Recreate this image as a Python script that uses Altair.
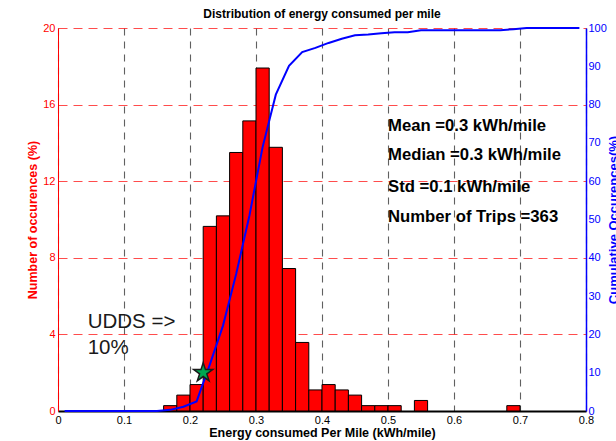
import altair as alt
import pandas as pd

# ---------------- data ----------------
bin_starts = [0.16, 0.18, 0.20, 0.22, 0.24, 0.26, 0.28, 0.30, 0.32, 0.34,
              0.36, 0.38, 0.40, 0.42, 0.44, 0.46, 0.48, 0.50, 0.54, 0.68]
bin_pct = [0.28, 0.83, 1.38, 9.64, 10.19, 13.50, 15.15, 17.91, 13.77, 7.44,
           3.58, 1.10, 1.38, 1.10, 0.83, 0.28, 0.28, 0.28, 0.55, 0.28]
BIN_W = 0.02

cum_x = [0.01, 0.03, 0.05, 0.07, 0.09, 0.11, 0.13, 0.15, 0.17, 0.19,
         0.21, 0.23, 0.25, 0.27, 0.29, 0.31, 0.33, 0.35, 0.37, 0.39,
         0.41, 0.43, 0.45, 0.47, 0.49, 0.51, 0.53, 0.55, 0.57, 0.59,
         0.61, 0.63, 0.65, 0.67, 0.69, 0.71, 0.73, 0.75, 0.77, 0.79]
cum_pct = [0, 0, 0, 0, 0, 0, 0, 0, 0.3, 1.1,
           2.5, 12.1, 22.3, 35.8, 51.0, 68.9, 82.6, 90.1, 93.7, 94.8,
           96.1, 97.2, 98.1, 98.3, 98.6, 98.9, 98.9, 99.4, 99.4, 99.4,
           99.4, 99.4, 99.4, 99.4, 99.7, 100, 100, 100, 100, 100]

star_x = [0.22]
star_cum = [10]

stats_text = ["Mean =0.3 kWh/mile", "Median =0.3 kWh/mile",
              "Std =0.1 kWh/mile", "Number of Trips =363"]
udds_text = ["UDDS =>", "10%"]

x_ticks = [0, 0.1, 0.2, 0.3, 0.4, 0.5, 0.6, 0.7, 0.8]
left_ticks = [0, 4, 8, 12, 16, 20]
right_ticks = [0, 10, 20, 30, 40, 50, 60, 70, 80, 90, 100]

# annotation anchors (data coordinates, left axis units)
STATS_X = 0.5
STATS_Y = [14.9, 13.35, 11.7, 10.15]
UDDS_X = 0.045
UDDS_Y = [4.65, 3.3]

# five-pointed star marker shape (unit box)
STAR_PATH = ("M0,-1L0.225,-0.309L0.951,-0.309L0.363,0.118L0.588,0.809L0,0.382"
             "L-0.588,0.809L-0.363,0.118L-0.951,-0.309L-0.225,-0.309Z")

FONT = "Liberation Sans"
W, H = 528, 383

hist = pd.DataFrame({"xs": bin_starts,
                     "xe": [s + BIN_W for s in bin_starts],
                     "pct": bin_pct})
cum = pd.DataFrame({"xc": cum_x, "cum": cum_pct})
star = pd.DataFrame({"xc": star_x, "cum": star_cum})
stats = pd.DataFrame({"label": stats_text, "xt": [STATS_X] * len(stats_text), "pct": STATS_Y})
udds = pd.DataFrame({"label": udds_text, "xt": [UDDS_X] * len(udds_text), "pct": UDDS_Y})

x_scale = alt.Scale(domain=[0, 0.8], nice=False, zero=False)
yl = alt.Scale(domain=[0, 20], nice=False, zero=True)
yr = alt.Scale(domain=[0, 100], nice=False, zero=True)

x_axis = alt.Axis(values=x_ticks, format="~g", labelFont=FONT, labelFlush=False,
                  labelFontSize=11, labelColor="black", labelPadding=3, ticks=False,
                  domainColor="black", domainWidth=2,
                  grid=True, gridColor="#444444", gridDash=[7, 6], gridOpacity=0.85,
                  gridWidth=1.1,
                  title="Energy consumed Per Mile (kWh/mile)", titleFont=FONT,
                  titleFontSize=12.5, titleFontWeight="bold", titleColor="black",
                  titlePadding=1)

left_axis = alt.Axis(values=left_ticks, orient="left", labelFont=FONT, labelFontSize=11,
                     labelColor="#FF0000", labelPadding=3, ticks=False,
                     domainColor="#FF0000", domainWidth=1,
                     grid=True, gridColor="#FF0000", gridDash=[9, 6], gridOpacity=0.7,
                     gridWidth=1,
                     title="Number of occurences (%)", titleFont=FONT, titleFontSize=12.5,
                     titleFontWeight="bold", titleColor="#FF0000", titleAngle=270,
                     titleAlign="center", titleBaseline="top", titleX=-32, titleY=H / 2)

right_axis = alt.Axis(values=right_ticks, orient="right", labelFont=FONT, labelFontSize=11,
                      labelColor="#0000FF", labelPadding=2, ticks=False,
                      domainColor="#0000FF", domainWidth=1.5, grid=False,
                      title="Cumulative Occurences(%)", titleFont=FONT, titleFontSize=13,
                      titleFontWeight="bold", titleColor="#0000FF", titleAngle=270,
                      titleAlign="center", titleBaseline="top", titleX=21, titleY=H / 2)

bars = alt.Chart(hist).mark_bar(color="#FF0000", stroke="black", strokeWidth=1).encode(
    x=alt.X("xs:Q", scale=x_scale, axis=x_axis),
    x2="xe:Q",
    y=alt.Y("pct:Q", scale=yl, axis=left_axis),
    y2=alt.datum(0),
)

stats_txt = alt.Chart(stats).mark_text(font=FONT, fontSize=16.7, fontWeight="bold",
                                       align="left", baseline="middle", color="black").encode(
    x=alt.X("xt:Q", scale=x_scale, axis=x_axis),
    y=alt.Y("pct:Q", scale=yl, axis=left_axis),
    text="label:N",
)

udds_txt = alt.Chart(udds).mark_text(font=FONT, fontSize=20.5,
                                     align="left", baseline="middle", color="#1a1a1a").encode(
    x=alt.X("xt:Q", scale=x_scale, axis=x_axis),
    y=alt.Y("pct:Q", scale=yl, axis=left_axis),
    text="label:N",
)

line = alt.Chart(cum).mark_line(color="#0000FF", strokeWidth=2).encode(
    x=alt.X("xc:Q", scale=x_scale, axis=x_axis),
    y=alt.Y("cum:Q", scale=yr, axis=right_axis),
)

star_pt = alt.Chart(star).mark_point(shape=STAR_PATH, filled=True, fill="#00A651",
                                     stroke="#1a1a1a", strokeWidth=1.5, size=400,
                                     opacity=1).encode(
    x=alt.X("xc:Q", scale=x_scale, axis=x_axis),
    y=alt.Y("cum:Q", scale=yr, axis=right_axis),
)

left_layer = alt.layer(bars, stats_txt, udds_txt)
right_layer = alt.layer(line, star_pt)

chart = alt.layer(left_layer, right_layer).resolve_scale(
    y="independent"
).properties(
    width=W, height=H,
    autosize=alt.AutoSizeParams(type="none"),
    padding={"left": 58, "top": 28, "right": 30, "bottom": 30},
    background="white",
    title=alt.TitleParams("Distribution of energy consumed per mile", font=FONT,
                          fontSize=12, fontWeight="bold", color="black",
                          anchor="middle", offset=9, baseline="alphabetic",
                          frame="group", dy=17),
).configure_view(stroke=None)

chart.save("out.html", embed_options={"renderer": "svg", "actions": False})
